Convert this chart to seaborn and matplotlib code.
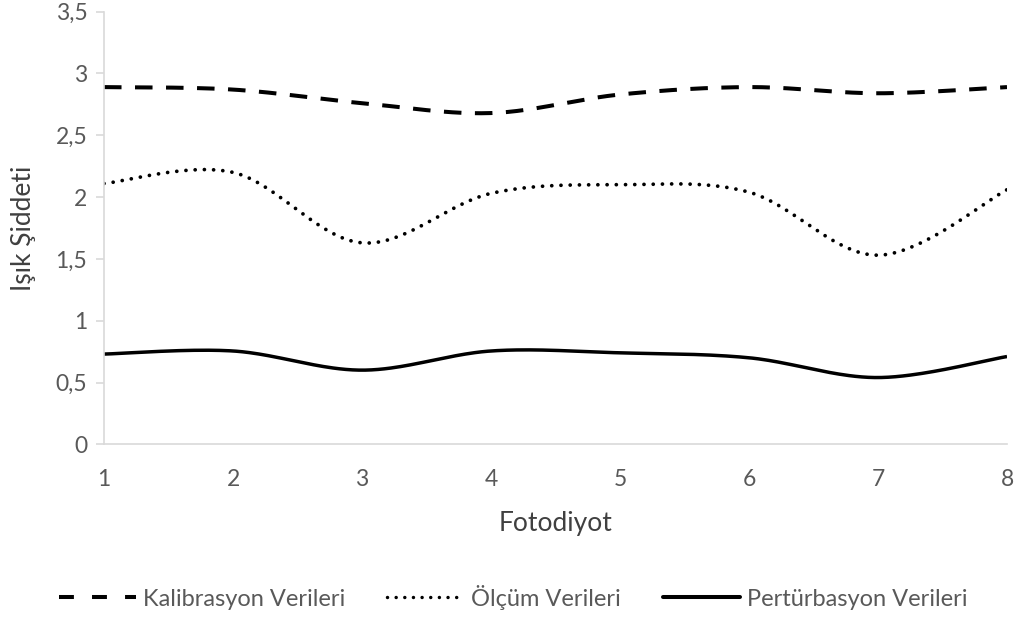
import numpy as np
import pandas as pd
import matplotlib
matplotlib.use("Agg")
import matplotlib.pyplot as plt
import seaborn as sns
from matplotlib.lines import Line2D

# ---- data ----
fotodiyot = [1, 2, 3, 4, 5, 6, 7, 8]
kalibrasyon = [2.89, 2.87, 2.76, 2.68, 2.83, 2.89, 2.84, 2.89]
olcum = [2.11, 2.20, 1.63, 2.03, 2.10, 2.04, 1.53, 2.06]
perturbasyon = [0.73, 0.755, 0.60, 0.755, 0.74, 0.70, 0.54, 0.71]
series_names = ["Kalibrasyon Verileri", "Ölçüm Verileri", "Pertürbasyon Verileri"]
y_ticks = [0, 0.5, 1, 1.5, 2, 2.5, 3, 3.5]
y_tick_labels = ["0", "0,5", "1", "1,5", "2", "2,5", "3", "3,5"]

sns.set_theme(style="white")
plt.rcParams["font.family"] = ["Lato", "DejaVu Sans"]


def smooth(xs, ys, n=40):
    """Excel-style smoothed line (cubic Bezier / Catmull-Rom through the points)."""
    xs = np.asarray(xs, float)
    ys = np.asarray(ys, float)
    P = np.column_stack([xs, ys])
    out = []
    for i in range(len(P) - 1):
        p0 = P[max(i - 1, 0)]
        p1 = P[i]
        p2 = P[i + 1]
        p3 = P[min(i + 2, len(P) - 1)]
        c1 = p1 + (p2 - p0) / 6.0
        c2 = p2 - (p3 - p1) / 6.0
        t = np.linspace(0, 1, n, endpoint=(i == len(P) - 2))[:, None]
        seg = ((1 - t) ** 3) * p1 + 3 * ((1 - t) ** 2) * t * c1 + 3 * (1 - t) * t ** 2 * c2 + t ** 3 * p2
        out.append(seg)
    out = np.vstack(out)
    return out[:, 0], out[:, 1]


fig = plt.figure(figsize=(10.25, 6.22), dpi=100)
ax = fig.add_axes([104 / 1025, 1 - 444.3 / 622, (1007 - 104) / 1025, (444.3 - 11.7) / 622])

styles = [
    dict(lw=2.9, linestyle=(0, (4.35, 3.35)), dash_capstyle="butt"),
    dict(lw=2.7, linestyle=(0, (0.01, 2.45)), dash_capstyle="round"),
    dict(lw=2.5, linestyle="-", solid_capstyle="butt"),
]

for name, vals, st in zip(series_names, [kalibrasyon, olcum, perturbasyon], styles):
    sx, sy = smooth(fotodiyot, vals)
    df = pd.DataFrame({"x": sx, "y": sy})
    sns.lineplot(data=df, x="x", y="y", sort=False, ax=ax, color="black",
                 estimator=None, legend=False, **st)

ax.set_xlim(1, 8)
ax.set_ylim(0, 3.5)
ax.set_xticks(fotodiyot)
ax.set_xticklabels([str(v) for v in fotodiyot])
ax.set_yticks(y_ticks)
ax.set_yticklabels(y_tick_labels)

for s in ["top", "right"]:
    ax.spines[s].set_visible(False)
ax.spines["left"].set_color("#d9d9d9")
ax.spines["bottom"].set_color("#d9d9d9")
ax.spines["left"].set_linewidth(1.2)
ax.spines["bottom"].set_linewidth(1.2)

ax.tick_params(axis="y", which="major", left=True, length=6, width=1.2, color="#d9d9d9",
               labelsize=16.5, labelcolor="#595959", pad=6)
ax.tick_params(axis="x", which="major", bottom=False, labelsize=16.5, labelcolor="#595959", pad=12)

ax.set_xlabel("Fotodiyot", fontsize=19, color="#404040", labelpad=15)
ax.set_ylabel("Işık Şiddeti", fontsize=19, color="#404040")
ax.yaxis.set_label_coords((36 - 104) / 903, 0.5)
ax.grid(False)

handles = [
    Line2D([0], [0], color="black", lw=2.9, linestyle=(0, (3.7, 4.5)), dash_capstyle="butt"),
    Line2D([0], [0], color="black", lw=2.5, linestyle=(0, (0.01, 2.48)), dash_capstyle="round"),
    Line2D([0], [0], color="black", lw=2.9, linestyle="-"),
]
leg = fig.legend(handles, series_names, loc="center", bbox_to_anchor=(513 / 1025, 1 - 597 / 622),
                 ncol=3, frameon=False, fontsize=17, handlelength=3.26, handletextpad=0.3,
                 columnspacing=1.78, labelcolor="#595959")

fig.savefig("out.png", dpi=100, facecolor="white")
